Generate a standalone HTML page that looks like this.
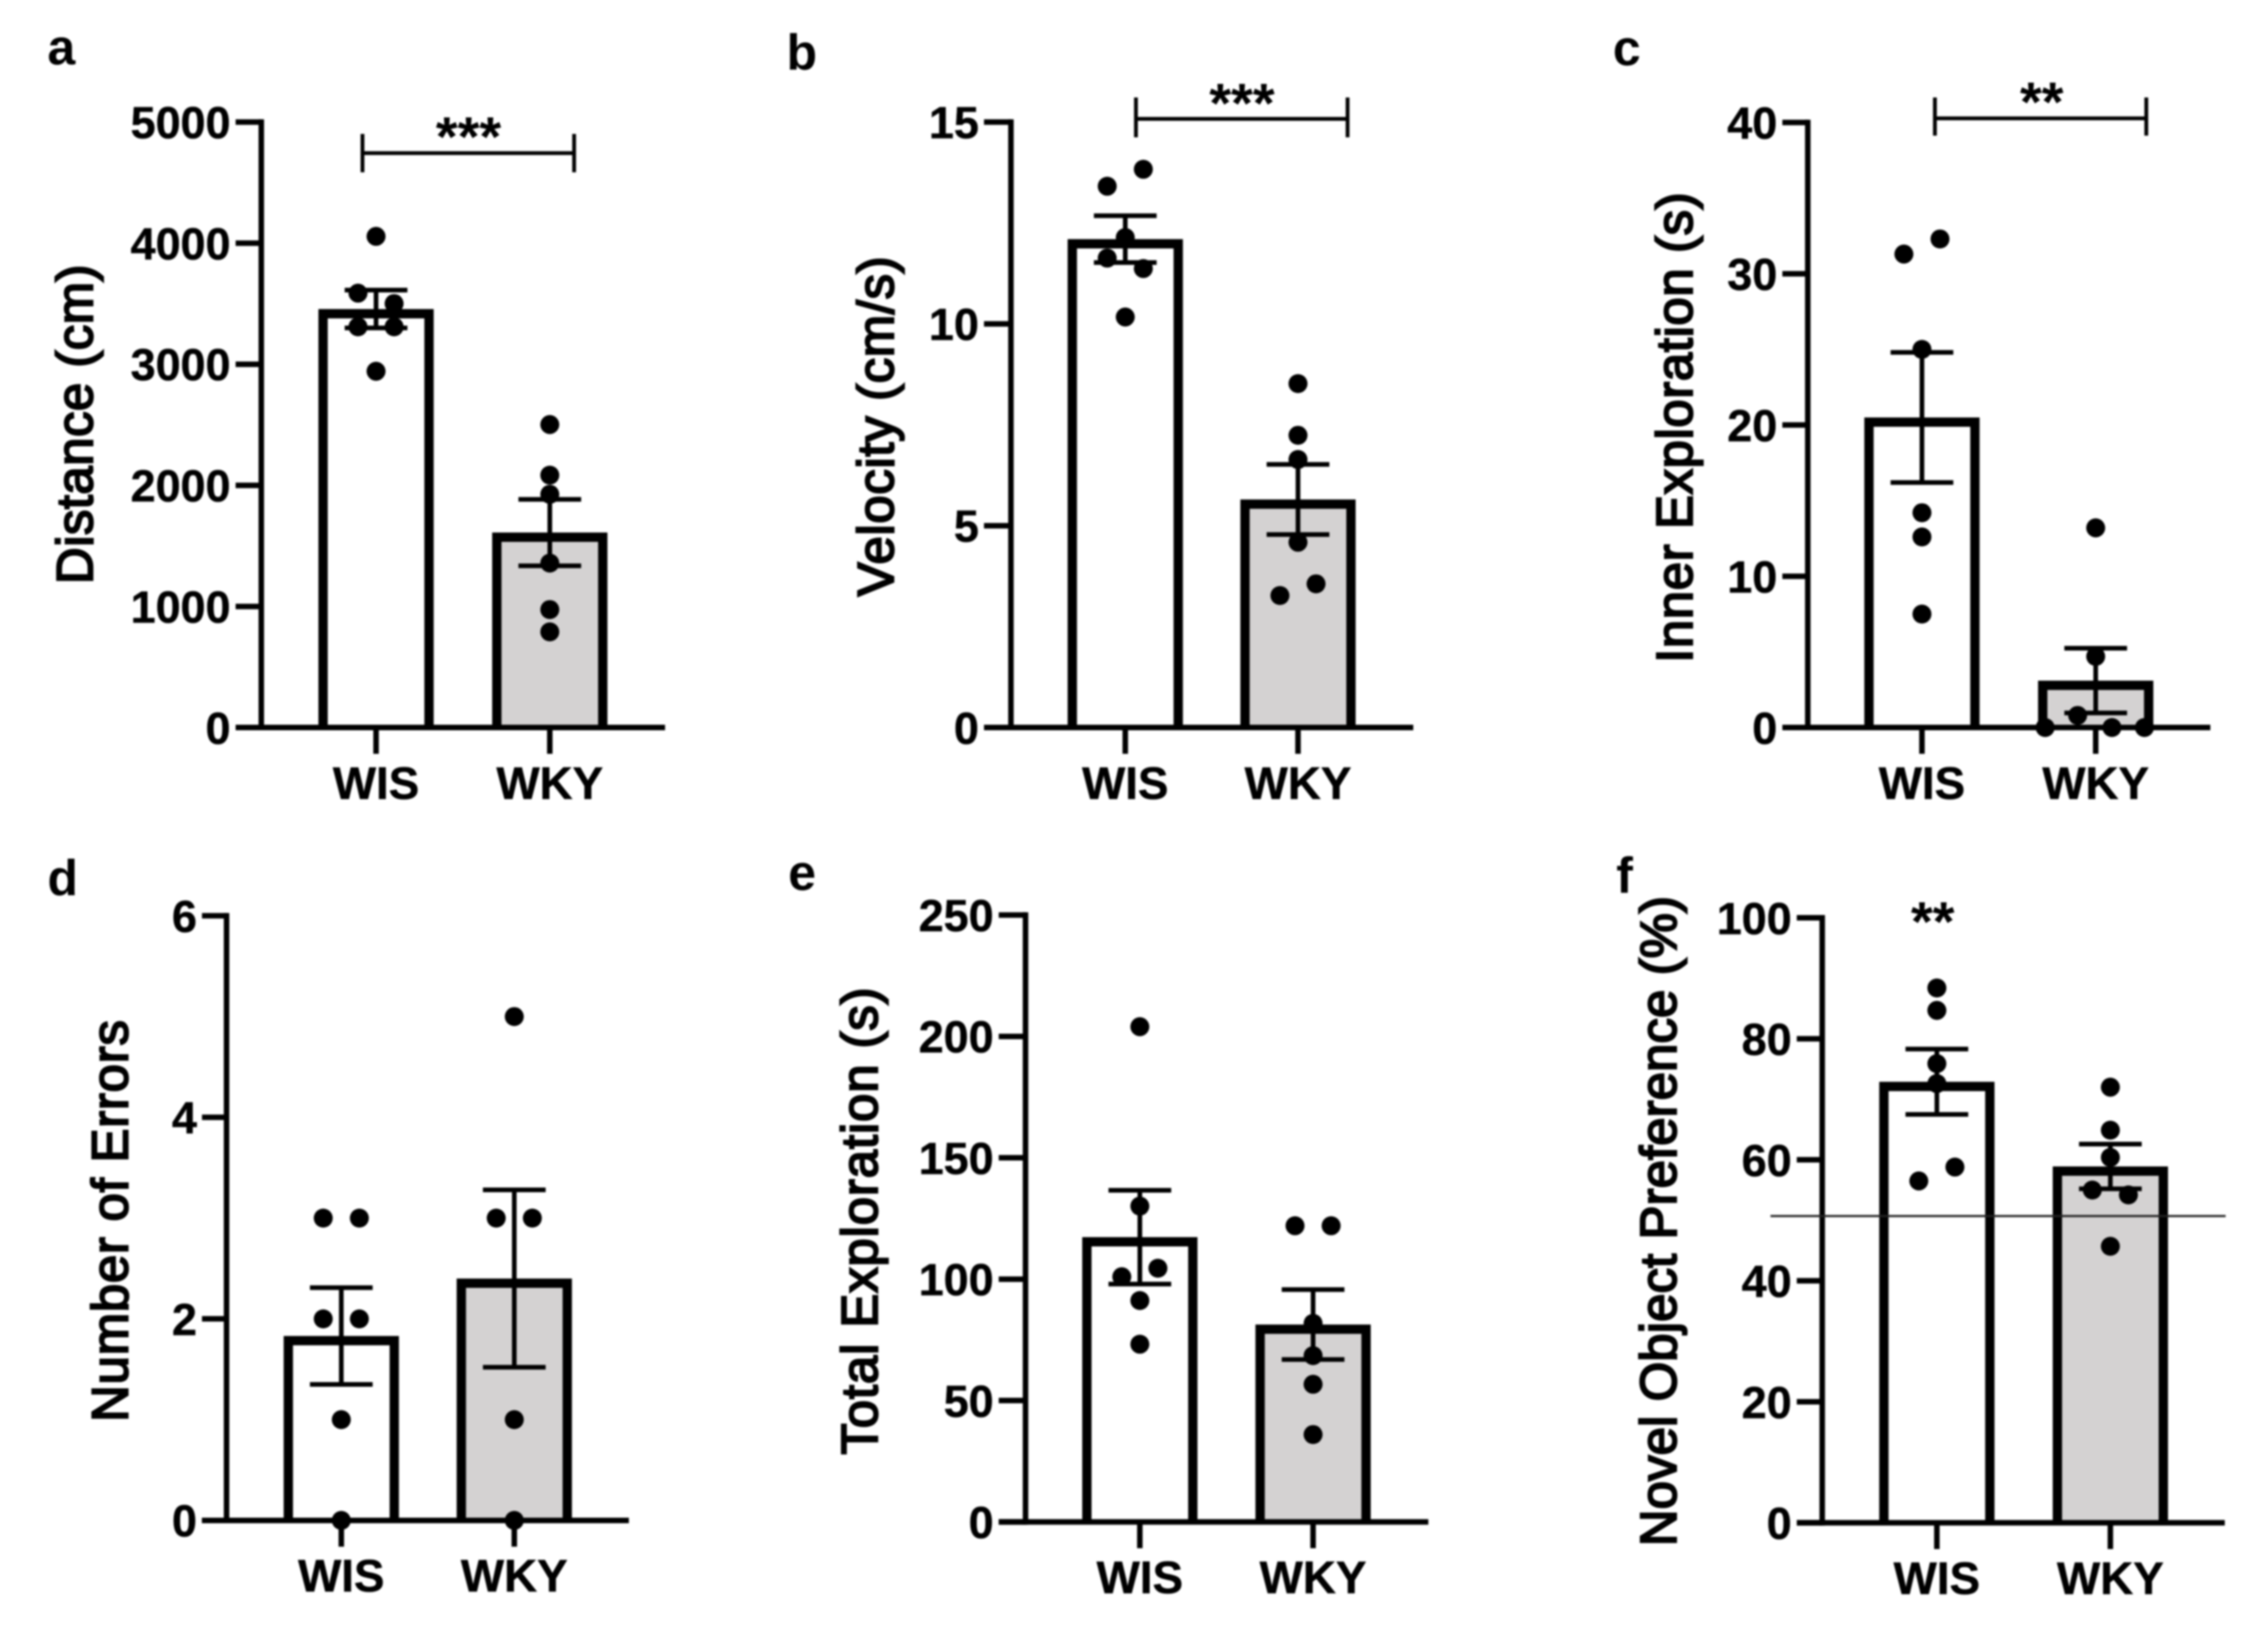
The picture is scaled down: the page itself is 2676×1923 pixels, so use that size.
<!DOCTYPE html>
<html lang="en">
<head>
<meta charset="utf-8">
<title>WIS vs WKY behavioural measures</title>
<style>
html,body{margin:0;padding:0;background:#fff;}
svg{display:block;filter:blur(1px);}
text{font-family:"Liberation Sans",Arial,sans-serif;fill:#000;}
.tick{font-weight:700;font-size:53px;stroke:#000;stroke-width:0.5px;}
.cat{font-weight:700;font-size:54px;stroke:#000;stroke-width:0.5px;}
.title{font-weight:400;font-size:60px;stroke:#000;stroke-width:2.4px;}
.letter{font-weight:700;font-size:59px;}
.stars{font-weight:700;font-size:66px;}
</style>
</head>
<body>
<svg id="figure" xmlns="http://www.w3.org/2000/svg" width="2676" height="1923" viewBox="0 0 2676 1923"></svg>
<script>
const categories = ['WIS', 'WKY'];

const aTicks = [0, 1000, 2000, 3000, 4000, 5000];
const aMeans = [3456, 1610];
const aSems = [156, 274];
const aWis = [4056, 3587, 3501, 3309, 3309, 2942];
const aWisSlots = [0, -1, 1, -1, 1, 0];
const aWky = [2502, 2084, 1926, 1358, 974, 790];
const aWkySlots = [0, 0, 0, 0, 0, 0];

const bTicks = [0, 5, 10, 15];
const bMeans = [12.1, 5.65];
const bSems = [0.58, 0.87];
const bWis = [13.83, 13.41, 12.14, 11.63, 11.37, 10.17];
const bWisSlots = [1, -1, 0, -1, 1, 0];
const bWky = [8.52, 7.24, 6.64, 4.59, 3.56, 3.27];
const bWkySlots = [0, 0, 0, 0, 1, -1];

const cTicks = [0, 10, 20, 30, 40];
const cMeans = [20.5, 3.1];
const cSems = [4.3, 2.14];
const cWis = [32.3, 31.3, 25, 14.2, 12.6, 7.5];
const cWisSlots = [1, -1, 0, 0, 0, 0];
const cWky = [13.2, 4.7, 0.8, 0, 0, 0];
const cWkySlots = [0, 0, -1, -2.8, 0.9, 2.7];

const dTicks = [0, 2, 4, 6];
const dMeans = [1.83, 2.4];
const dSems = [0.48, 0.88];
const dWis = [3, 3, 2, 2, 1, 0];
const dWisSlots = [-1, 1, -1, 1, 0, 0];
const dWky = [5, 3, 3, 1, 0];
const dWkySlots = [0, -1, 1, 0, 0];

const eTicks = [0, 50, 100, 150, 200, 250];
const eMeans = [117.3, 81.3];
const eSems = [19.3, 14.4];
const eWis = [204, 130.1, 104.5, 101, 91.2, 73.2];
const eWisSlots = [0, 0, 1, -1, 0, 0];
const eWky = [122, 122, 81.8, 68.5, 56.7, 36];
const eWkySlots = [-1, 1, 0, 0, 0, 0];

const fTicks = [0, 20, 40, 60, 80, 100];
const fMeans = [72.9, 58.9];
const fSems = [5.4, 3.7];
const fWis = [88.4, 84.7, 75.9, 72.6, 58.8, 56.5];
const fWisSlots = [0, 0, 0, 0, 1, -1];
const fWky = [72, 64.9, 60.4, 55, 54.2, 45.7];
const fWkySlots = [0, 0, 0, -1, 1, 0];
const fChanceLevel = [50.7];

const NS = 'http://www.w3.org/2000/svg';
const svg = document.getElementById('figure');
const BAR_STROKE = 11, BAR_HALF = 68, AXIS_STROKE = 6.5, CAP_HALF = 37, DOT_R = 11.2, SLOT = 21.3;
const GREY = '#d4d2d2';

function make(parent, tag, attrs, txt) {
  const el = document.createElementNS(NS, tag);
  for (const k in attrs) el.setAttribute(k, attrs[k]);
  if (txt !== undefined) el.textContent = txt;
  parent.appendChild(el);
  return el;
}
function line(parent, x1, y1, x2, y2, w, color) {
  return make(parent, 'line', {x1: x1, y1: y1, x2: x2, y2: y2, stroke: color || '#000', 'stroke-width': w});
}

const panels = [
 {id:'a', letter:[56,76], title:'Distance (cm)', titleLen:377, titlePos:[109,500.6], axisX:308.3, tickLeft:278, xEnd:784.7, yTop:144, y0:858.3, cx:[443.7,648.7], max:5000,
  ticks:aTicks, means:aMeans, sems:aSems, wis:aWis, wisSlots:aWisSlots, wky:aWky, wkySlots:aWkySlots,
  bracket:{x1:427.7,x2:677.4,y:180.6,capTop:158,capBottom:203.3}, stars:{text:'***',x:552.8,y:153}},
 {id:'b', letter:[928,82], title:'Velocity (cm/s)', titleLen:401, titlePos:[1053.8,503],  axisX:1192.8, tickLeft:1161, xEnd:1667.5, yTop:144, y0:858.3, cx:[1327.7,1531.5], max:15,
  ticks:bTicks, means:bMeans, sems:bSems, wis:bWis, wisSlots:bWisSlots, wky:bWky, wkySlots:bWkySlots,
  bracket:{x1:1340.3,x2:1590,y:140.2,capTop:115,capBottom:162}, stars:{text:'***',x:1465.4,y:113.3}},
 {id:'c', letter:[1903,77], title:'Inner Exploration (s)', titleLen:555, titlePos:[1996.6,504.5], axisX:2133, tickLeft:2103, xEnd:2608, yTop:144.5, y0:858.3, cx:[2267.7,2472.7], max:40,
  ticks:cTicks, means:cMeans, sems:cSems, wis:cWis, wisSlots:cWisSlots, wky:cWky, wkySlots:cWkySlots,
  bracket:{x1:2283,x2:2532.4,y:139.6,capTop:115,capBottom:160}, stars:{text:'**',x:2409,y:112}},
 {id:'d', letter:[56,1056], title:'Number of Errors', titleLen:474, titlePos:[150.4,1440.5], axisX:267.3, tickLeft:238.3, xEnd:742, yTop:1080.4, y0:1793.7, cx:[402.7,606.8], max:6,
  ticks:dTicks, means:dMeans, sems:dSems, wis:dWis, wisSlots:dWisSlots, wky:dWky, wkySlots:dWkySlots},
 {id:'e', letter:[930,1050], title:'Total Exploration (s)', titleLen:551, titlePos:[1035,1440.5], axisX:1210, tickLeft:1178.4, xEnd:1685.3, yTop:1079.5, y0:1795.5, cx:[1344.9,1549.3], max:250,
  ticks:eTicks, means:eMeans, sems:eSems, wis:eWis, wisSlots:eWisSlots, wky:eWky, wkySlots:eWkySlots},
 {id:'f', letter:[1907,1053], title:'Novel Object Preference (%)', titleLen:767, titlePos:[1977.6,1440.6], axisX:2150, tickLeft:2120, xEnd:2625, yTop:1082.8, y0:1796.5, cx:[2285.3,2490], max:100,
  ticks:fTicks, means:fMeans, sems:fSems, wis:fWis, wisSlots:fWisSlots, wky:fWky, wkySlots:fWkySlots,
  stars:{text:'**',x:2280.4,y:1079}, chance:fChanceLevel[0], chanceLeft:2089}
];

panels.forEach(function (p) {
  const yScale = function (v) { return p.y0 - (v / p.max) * (p.y0 - p.yTop); };

  const g = make(svg, 'g', {});
  
  

  const letter = make(g, 'text', {class:'letter', x:p.letter[0], y:p.letter[1]}, p.id);
  
  

  const title = make(g, 'text', {class:'title', x:p.titlePos[0], y:p.titlePos[1], 'text-anchor':'middle',
    textLength:p.titleLen, lengthAdjust:'spacing',
    transform:'rotate(-90 ' + p.titlePos[0] + ' ' + p.titlePos[1] + ')'}, p.title);
  
  

  // bars
  categories.forEach(function (cat, i) {
    const cx = p.cx[i];
    const top = yScale(p.means[i]) + BAR_STROKE / 2;
    const inner = BAR_HALF - BAR_STROKE / 2;
    const bar = make(g, 'path', {d:'M' + (cx - inner) + ' ' + p.y0 + 'V' + top + 'H' + (cx + inner) + 'V' + p.y0,
      fill: i === 0 ? '#fff' : GREY, stroke:'#000', 'stroke-width':BAR_STROKE});
    
    
  });

  // axes
  const yAxis = line(g, p.axisX, p.yTop - AXIS_STROKE / 2, p.axisX, p.y0 + AXIS_STROKE / 2, AXIS_STROKE);
  
  
  const xAxis = line(g, p.tickLeft, p.y0, p.xEnd, p.y0, AXIS_STROKE);
  
  

  p.ticks.forEach(function (v) {
    const y = yScale(v);
    const tick = line(g, p.tickLeft, y, p.axisX, y, AXIS_STROKE);
    
    
    const lab = make(g, 'text', {class:'tick', x:p.tickLeft - 6, y:y + 19, 'text-anchor':'end'}, String(v));
    
    
  });

  categories.forEach(function (cat, i) {
    const cx = p.cx[i];
    const tick = line(g, cx, p.y0, cx, p.y0 + 31, AXIS_STROKE);
    
    
    const lab = make(g, 'text', {class:'cat', x:cx, y:p.y0 + 84, 'text-anchor':'middle'}, cat);
    
    

    // error bars
    const hi = yScale(p.means[i] + p.sems[i]);
    const lo = yScale(p.means[i] - p.sems[i]);
    const stem = line(g, cx, hi, cx, lo, 5.5);
    
    
    const capHi = line(g, cx - CAP_HALF, hi, cx + CAP_HALF, hi, 5.5);
    
    
    const capLo = line(g, cx - CAP_HALF, lo, cx + CAP_HALF, lo, 5.5);
    
    

    // points
    const vals = i === 0 ? p.wis : p.wky;
    const slots = i === 0 ? p.wisSlots : p.wkySlots;
    vals.forEach(function (v, k) {
      const dot = make(g, 'circle', {cx:cx + slots[k] * SLOT, cy:yScale(v), r:DOT_R, fill:'#000'});
      
      
    });
  });

  if (p.bracket) {
    const b = p.bracket;
    const br = line(g, b.x1, b.y, b.x2, b.y, 4.5);
    
    
    const c1 = line(g, b.x1, b.capTop, b.x1, b.capBottom, 4.5);
    
    
    const c2 = line(g, b.x2, b.capTop, b.x2, b.capBottom, 4.5);
    
    
  }
  if (p.stars) {
    const st = make(g, 'text', {class:'stars', x:p.stars.x, y:p.stars.y + 31, 'text-anchor':'middle'}, p.stars.text);
    
    
  }
  if (p.chance !== undefined) {
    const yc = yScale(p.chance);
    const ch = line(g, p.chanceLeft, yc, p.xEnd + 1, yc, 2.5, '#222');
    
    
  }
});
</script>
</body>
</html>
